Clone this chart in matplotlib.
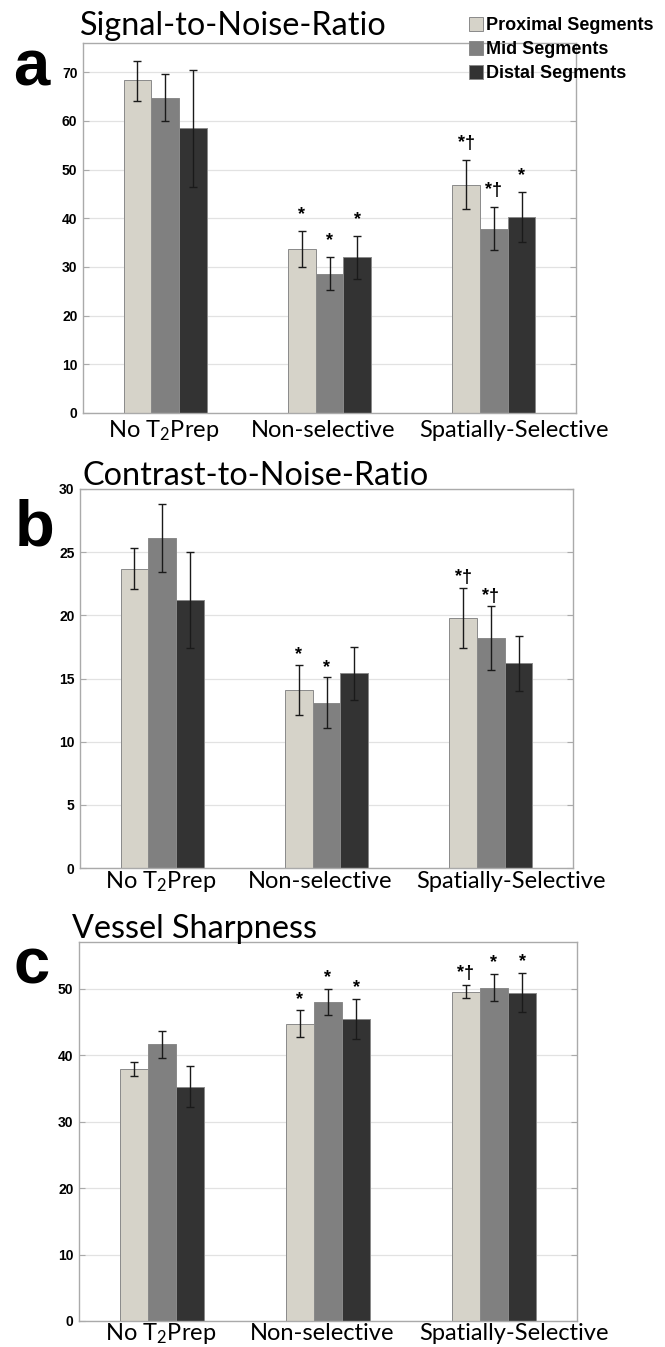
import matplotlib
matplotlib.use("Agg")
import matplotlib.pyplot as plt
from matplotlib.patches import Patch
import numpy as np

# ---------------- data ----------------
groups = ["No T$_2$Prep", "Non-selective", "Spatially-Selective"]
series = ["Proximal Segments", "Mid Segments", "Distal Segments"]

snr_mean = [[68.3, 33.6, 46.9], [64.8, 28.6, 37.8], [58.5, 32.0, 40.3]]
snr_hi   = [[72.4, 37.3, 52.0], [69.7, 32.0, 42.3], [70.5, 36.3, 45.3]]
snr_lo   = [[64.1, 29.9, 41.9], [60.0, 25.2, 33.5], [46.4, 27.6, 35.2]]
snr_sig  = [["", "*", "*\u2020"], ["", "*", "*\u2020"], ["", "*", "*"]]

cnr_mean = [[23.7, 14.1, 19.8], [26.1, 13.1, 18.2], [21.2, 15.4, 16.2]]
cnr_hi   = [[25.3, 16.1, 22.2], [28.8, 15.1, 20.7], [25.0, 17.5, 18.4]]
cnr_lo   = [[22.1, 12.1, 17.4], [23.4, 11.1, 15.7], [17.4, 13.3, 14.0]]
cnr_sig  = [["", "*", "*\u2020"], ["", "*", "*\u2020"], ["", "", ""]]

vs_mean = [[37.85, 44.65, 49.55], [41.6, 48.0, 50.05], [35.25, 45.45, 49.4]]
vs_hi   = [[38.9, 46.7, 50.6], [43.65, 50.0, 52.15], [38.35, 48.5, 52.4]]
vs_lo   = [[36.9, 42.65, 48.55], [39.55, 46.0, 48.1], [32.25, 42.45, 46.4]]
vs_sig  = [["", "*", "*\u2020"], ["", "*", "*"], ["", "*", "*"]]

titles = ["Signal-to-Noise-Ratio", "Contrast-to-Noise-Ratio", "Vessel Sharpness"]
letters = ["a", "b", "c"]
ylims = [76, 30, 57]
yticks = [np.arange(0, 71, 10), np.arange(0, 31, 5), np.arange(0, 51, 10)]

colors = ["#d6d3c9", "#808080", "#333333"]

# ---------------- style ----------------
plt.rcParams["mathtext.default"] = "regular"
W, H = 665, 1347
fig = plt.figure(figsize=(W / 100, H / 100), dpi=100)

# axes boxes in pixels: left, right, top, bottom
boxes = [(83, 576, 43, 413), (80, 573, 489, 868), (79, 577, 942, 1321)]
title_pos = [(80, 35), (83, 485), (72, 938)]
letter_pos = [(13, 85), (15, 545), (13, 983)]
star_off = [6, 1, 2]
xlab_dx = [-1.5, -6, 20]        # px shift of group labels
xlab_dy = [24, 20, 19]          # px from axis bottom to label baseline
PT = 0.72                       # points per pixel at dpi 100

panels = [
    (snr_mean, snr_hi, snr_lo, snr_sig),
    (cnr_mean, cnr_hi, cnr_lo, cnr_sig),
    (vs_mean, vs_hi, vs_lo, vs_sig),
]

x = np.arange(1, 4)
bw = 0.169
spine_c = "#aaaaaa"
title_texts = []
xlab_texts = []
for p, (means, his, los, sigs) in enumerate(panels):
    l, r, t, b = boxes[p]
    ax = fig.add_axes([l / W, 1 - b / H, (r - l) / W, (b - t) / H])
    ax.set_xlim(0.5, 3.5)
    ax.set_ylim(0, ylims[p])
    ax.set_yticks(yticks[p])
    ax.set_yticklabels([str(v) for v in yticks[p]],
                       fontfamily="Liberation Sans", fontweight="bold", fontsize=10)
    ax.set_xticks(x)
    ax.set_xticklabels([])
    ax.tick_params(axis="x", length=0)
    ax.tick_params(axis="y", direction="in", length=4, width=0.8, color=spine_c,
                   right=True, pad=4)
    ax.yaxis.grid(True, color="#e2e2e2", linewidth=0.9)
    ax.set_axisbelow(True)
    for s in ax.spines.values():
        s.set_color(spine_c)
        s.set_linewidth(1.0)
    for j in range(3):
        lt = ax.annotate(groups[j], (x[j], 0), xycoords=ax.get_xaxis_transform(),
                         xytext=(xlab_dx[j] * PT, -xlab_dy[p] * PT),
                         textcoords="offset points", ha="center", va="baseline",
                         fontfamily="Lato", fontsize=16, annotation_clip=False)
        xlab_texts.append(lt)
    for i in range(3):
        xs = x + (i - 1) * bw
        m = np.array(means[i]); hi = np.array(his[i]); lo = np.array(los[i])
        ax.bar(xs, m, width=bw, color=colors[i], edgecolor="#8a8a8a",
               linewidth=0.7, zorder=2)
        ax.errorbar(xs, m, yerr=[m - lo, hi - m], fmt="none", ecolor="#1a1a1a",
                    elinewidth=1.0, capsize=2.6, capthick=1.0, zorder=3)
        for j in range(3):
            if sigs[i][j]:
                ax.annotate(sigs[i][j], (xs[j], hi[j]), xytext=(0, star_off[p]),
                            textcoords="offset points", ha="center", va="bottom",
                            fontsize=13, fontweight="bold",
                            family=["Liberation Sans", "DejaVu Sans"], zorder=4)
    tx, ty = title_pos[p]
    tt = fig.text(tx / W, 1 - ty / H, titles[p], fontfamily="Lato", fontsize=22,
                  ha="left", va="baseline")
    title_texts.append(tt)
    lx, ly = letter_pos[p]
    fig.text(lx / W, 1 - ly / H, letters[p], fontfamily="Liberation Sans",
             fontweight="bold", fontsize=47, ha="left", va="baseline")

# fit font sizes to the reference text widths
fig.canvas.draw()
rend = fig.canvas.get_renderer()
wpx = title_texts[0].get_window_extent(rend).width
fs = 22 * 305 / wpx
for tt in title_texts:
    tt.set_fontsize(fs)
wpx2 = xlab_texts[2].get_window_extent(rend).width
fs2 = 16 * 190 / wpx2
for lt in xlab_texts:
    lt.set_fontsize(fs2)

handles = [Patch(facecolor=c, edgecolor="#8a8a8a", linewidth=0.7) for c in colors]
fig.legend(handles, series, loc="upper left", bbox_to_anchor=(469 / W, 1 - 17 / H),
           frameon=False, borderpad=0, borderaxespad=0, handlelength=0.78,
           handleheight=0.83, handletextpad=0.17, labelspacing=0.37,
           prop={"family": "Liberation Sans", "weight": "bold", "size": 13})

fig.savefig("out.png", dpi=100)
